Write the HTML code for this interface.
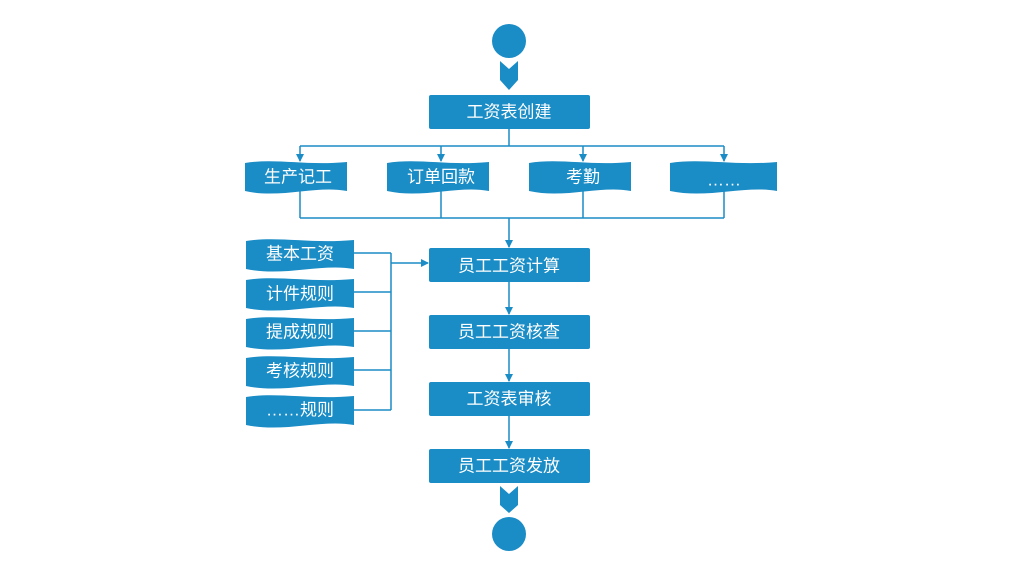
<!DOCTYPE html>
<html><head><meta charset="utf-8"><style>
html,body{margin:0;padding:0;background:#fff;}
svg{display:block;}
text{font-family:"Liberation Sans","Noto Sans CJK SC",sans-serif;fill:#fff;font-size:17px;text-anchor:middle;dominant-baseline:central;}
</style></head><body>
<svg width="1024" height="576" viewBox="0 0 1024 576">
<defs>
<path id="doc" d="M0 2 C30 -3 60 5 100 1 L100 30 C70 24 35 38 0 30 Z" fill="#1a8cc6"/>
<marker id="ar" markerWidth="8" markerHeight="8" refX="7" refY="4" orient="auto" markerUnits="userSpaceOnUse"><path d="M0 0 L8 4 L0 8 Z" fill="#1a8cc6"/></marker>
</defs>
<g stroke="#1a8cc6" stroke-width="1.5" fill="none">
<line x1="509" y1="129" x2="509" y2="146"/>
<line x1="300" y1="146" x2="724" y2="146"/>
<line x1="300" y1="146" x2="300" y2="161" marker-end="url(#ar)"/>
<line x1="441" y1="146" x2="441" y2="161" marker-end="url(#ar)"/>
<line x1="583" y1="146" x2="583" y2="161" marker-end="url(#ar)"/>
<line x1="724" y1="146" x2="724" y2="161" marker-end="url(#ar)"/>
<line x1="300" y1="190" x2="300" y2="218"/>
<line x1="441" y1="190" x2="441" y2="218"/>
<line x1="583" y1="190" x2="583" y2="218"/>
<line x1="724" y1="190" x2="724" y2="218"/>
<line x1="300" y1="218" x2="724" y2="218"/>
<line x1="509" y1="218" x2="509" y2="247" marker-end="url(#ar)"/>
<line x1="509" y1="282" x2="509" y2="314" marker-end="url(#ar)"/>
<line x1="509" y1="349" x2="509" y2="381" marker-end="url(#ar)"/>
<line x1="509" y1="416" x2="509" y2="448" marker-end="url(#ar)"/>
<line x1="352" y1="253" x2="391" y2="253"/>
<line x1="352" y1="292" x2="391" y2="292"/>
<line x1="352" y1="331" x2="391" y2="331"/>
<line x1="352" y1="370" x2="391" y2="370"/>
<line x1="352" y1="410" x2="391" y2="410"/>
<line x1="391" y1="253" x2="391" y2="410"/>
<line x1="391" y1="263" x2="428" y2="263" marker-end="url(#ar)"/>
</g>
<circle cx="509" cy="41" r="17" fill="#1a8cc6"/>
<path d="M500 61 L509 69 L518 61 L518 80 L509 90 L500 80 Z" fill="#1a8cc6"/>
<path d="M500 486 L509 494 L518 486 L518 505 L509 513 L500 505 Z" fill="#1a8cc6"/>
<circle cx="509" cy="534" r="17" fill="#1a8cc6"/>
<g fill="#1a8cc6">
<rect x="429" y="95" width="161" height="34" rx="2"/>
<rect x="429" y="248" width="161" height="34" rx="2"/>
<rect x="429" y="315" width="161" height="34" rx="2"/>
<rect x="429" y="382" width="161" height="34" rx="2"/>
<rect x="429" y="449" width="161" height="34" rx="2"/>
</g>
<use href="#doc" transform="translate(245,161) scale(1.02,1)"/>
<use href="#doc" transform="translate(387,161) scale(1.02,1)"/>
<use href="#doc" transform="translate(529,161) scale(1.02,1)"/>
<use href="#doc" transform="translate(670,161) scale(1.07,1)"/>
<use href="#doc" transform="translate(246,239) scale(1.08,1)"/>
<use href="#doc" transform="translate(246,278) scale(1.08,1)"/>
<use href="#doc" transform="translate(246,317) scale(1.08,1)"/>
<use href="#doc" transform="translate(246,356) scale(1.08,1)"/>
<use href="#doc" transform="translate(246,395) scale(1.08,1)"/>
<text x="509" y="112">工资表创建</text>
<text x="509" y="266">员工工资计算</text>
<text x="509" y="332">员工工资核查</text>
<text x="509" y="399">工资表审核</text>
<text x="509" y="466">员工工资发放</text>
<text x="298" y="177">生产记工</text>
<text x="441" y="177">订单回款</text>
<text x="583" y="177">考勤</text>
<text x="724" y="180">……</text>
<text x="300" y="254">基本工资</text>
<text x="300" y="294">计件规则</text>
<text x="300" y="332">提成规则</text>
<text x="300" y="371">考核规则</text>
<text x="300" y="410">……规则</text>
</svg>
</body></html>
